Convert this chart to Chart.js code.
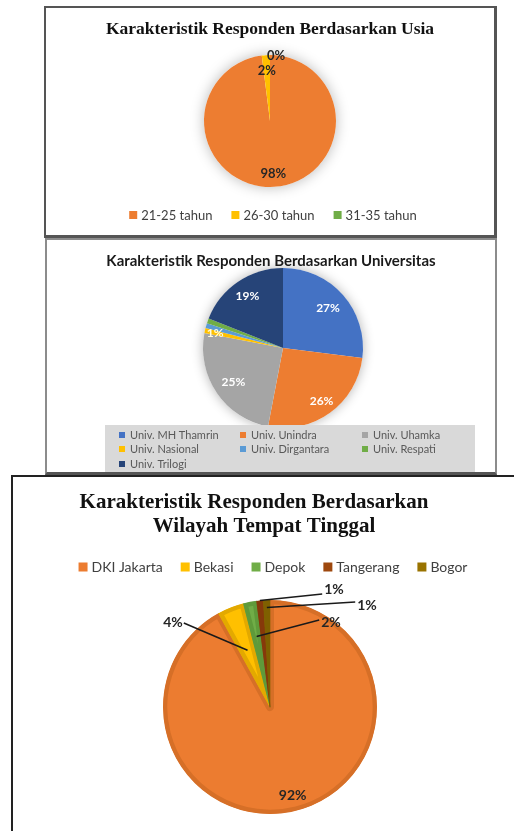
<!DOCTYPE html>
<html><head><meta charset="utf-8">
<script src="https://cdn.jsdelivr.net/npm/chart.js@4.4.1/dist/chart.umd.min.js"></script>
<style>
html,body{margin:0;padding:0;background:#fff;width:514px;height:831px;overflow:hidden;position:relative}
.box{position:absolute;box-sizing:border-box}
canvas{position:absolute;left:0;top:0}
</style></head><body>
<div class="box" style="left:44px;top:6px;width:453px;height:232px;border:2px solid #555;border-right-width:3px;border-bottom-width:3px"></div>
<div class="box" style="left:45px;top:238px;width:452px;height:237px;border:2px solid #8c8c8c;border-bottom:3px solid #555"></div>
<div class="box" style="left:11px;top:475px;width:520px;height:400px;border:2px solid #222"></div>
<canvas id="c1" width="514" height="831"></canvas>
<canvas id="c2" width="514" height="831"></canvas>
<canvas id="c3" width="514" height="831"></canvas>
<script>
// ---- data ----
const usiaCategories = ['21-25 tahun', '26-30 tahun', '31-35 tahun'];
const usiaValues = [98, 2, 0];
const usiaColors = ['#ED7D31', '#FFC000', '#70AD47'];

const univCategories = ['Univ. MH Thamrin', 'Univ. Unindra', 'Univ. Uhamka', 'Univ. Nasional', 'Univ. Dirgantara', 'Univ. Respati', 'Univ. Trilogi'];
const univValues = [27, 26, 25, 1, 1, 1, 19];
const univColors = ['#4472C4', '#ED7D31', '#A5A5A5', '#FFC000', '#5B9BD5', '#70AD47', '#264478'];

const wilayahCategories = ['DKI Jakarta', 'Bekasi', 'Depok', 'Tangerang', 'Bogor'];
const wilayahValues = [92, 4, 2, 1, 1];
const wilayahColors = ['#EC7C30', '#FFC000', '#70AD47', '#9E480E', '#997300'];
const wilayahRims = ['#D66F27', '#E3A900', '#5F9A3A', '#86390A', '#7F6000'];

// ---- layout helpers ----
const W = 514, H = 831;
function padFor(cx, cy, r, extra) {
  const s = r + (extra || 0) / 2;
  return { left: cx - s, right: W - (cx + s), top: cy - s, bottom: H - (cy + s) };
}

const deco = {
  id: 'deco',
  beforeDatasetsDraw(chart, args, o) {
    if (!o.shadow) return;
    const a = chart.getDatasetMeta(0).data[0];
    const ctx = chart.ctx; ctx.save();
    ctx.shadowColor = o.shadow.color; ctx.shadowBlur = o.shadow.blur;
    ctx.shadowOffsetX = o.shadow.dx || 0; ctx.shadowOffsetY = o.shadow.dy || 0;
    ctx.fillStyle = '#fff'; ctx.beginPath(); ctx.arc(a.x, a.y, a.outerRadius, 0, Math.PI * 2); ctx.fill();
    ctx.restore();
  },
  afterDatasetsDraw(chart, args, o) {
    const ctx = chart.ctx, meta = chart.getDatasetMeta(0), ds = chart.data.datasets[0].data;
    const total = ds.reduce((s, v) => s + v, 0);
    ctx.save(); ctx.textAlign = 'center'; ctx.textBaseline = 'middle';
    (o.labels || []).forEach((L, i) => {
      if (!L) return;
      const arc = meta.data[i], cx = arc.x, cy = arc.y, r = arc.outerRadius;
      const mid = (arc.startAngle + arc.endAngle) / 2;
      const txt = Math.round(ds[i] / total * 100) + '%';
      ctx.font = L.font || o.labelFont; ctx.fillStyle = L.color || o.labelColor;
      let x, y;
      if (L.frac != null) { x = cx + Math.cos(mid) * r * L.frac; y = cy + Math.sin(mid) * r * L.frac; }
      else { x = cx + L.dx; y = cy + L.dy; }
      if (L.line != null) {
        const px = cx + Math.cos(mid) * r * L.line, py = cy + Math.sin(mid) * r * L.line;
        const w = ctx.measureText(txt).width;
        const sx = L.dx < 0 ? x + w / 2 + 1 : x - w / 2 - 2;
        const sy = y + (L.ly || 0);
        ctx.strokeStyle = o.lineColor; ctx.lineWidth = o.lineWidth;
        ctx.beginPath(); ctx.moveTo(sx, sy); ctx.lineTo(px, py); ctx.stroke();
      }
      ctx.fillText(txt, x, y);
    });
    ctx.restore();
  },
  afterDraw(chart, args, o) {
    const ctx = chart.ctx; ctx.save();
    if (o.title) {
      const T = o.title;
      ctx.font = T.font; ctx.fillStyle = T.color; ctx.textAlign = 'center'; ctx.textBaseline = 'middle';
      T.lines.forEach((t, k) => ctx.fillText(t, Array.isArray(T.x) ? T.x[k] : T.x, T.y + k * (T.lh || 0)));
    }
    if (o.legend) {
      const Lg = o.legend;
      const labels = chart.data.labels, colors = chart.data.datasets[0].backgroundColor;
      if (Lg.bg) { ctx.fillStyle = Lg.bg.color; ctx.fillRect(Lg.bg.x, Lg.bg.y, Lg.bg.w, Lg.bg.h); }
      ctx.font = Lg.font; ctx.textBaseline = 'middle'; ctx.textAlign = 'left';
      let pos = [];
      if (Lg.grid) {
        labels.forEach((t, i) => pos.push([Lg.grid.xs[i % Lg.grid.xs.length], Lg.grid.ys[Math.floor(i / Lg.grid.xs.length)]]));
      } else {
        const widths = labels.map(t => Lg.box + Lg.gap + ctx.measureText(t).width);
        const total = widths.reduce((s, v) => s + v, 0) + Lg.itemGap * (labels.length - 1);
        let x = Lg.cx - total / 2;
        widths.forEach(w => { pos.push([x, Lg.y]); x += w + Lg.itemGap; });
      }
      labels.forEach((t, i) => {
        const p = pos[i];
        ctx.fillStyle = colors[i]; ctx.fillRect(p[0], p[1] - Lg.box / 2, Lg.box, Lg.box);
        ctx.fillStyle = Lg.color; ctx.fillText(t, p[0] + Lg.box + Lg.gap, p[1] + 0.5);
      });
    }
    ctx.restore();
  }
};
Chart.register(deco);

function makePie(id, labels, values, colors, extraDs, layout, decoOpts) {
  return new Chart(document.getElementById(id), {
    type: 'pie',
    data: { labels: labels, datasets: [Object.assign({ data: values, backgroundColor: colors, borderWidth: 0, hoverOffset: 0 }, extraDs)] },
    options: {
      responsive: false, animation: false, devicePixelRatio: 1,
      layout: { padding: layout },
      plugins: { legend: { display: false }, title: { display: false }, tooltip: { enabled: false }, deco: decoOpts }
    }
  });
}

// Chart 1: Usia
makePie('c1', usiaCategories, usiaValues, usiaColors, {}, padFor(270, 121, 66, 0), {
  shadow: { color: 'rgba(0,0,0,0.28)', blur: 14 },
  title: { lines: ['Karakteristik Responden Berdasarkan Usia'], x: 270, y: 29, font: 'bold 17.5px "Liberation Serif"', color: '#111' },
  labelFont: 'bold 13px Lato', labelColor: '#262626',
  labels: [{ frac: 0.8 }, { frac: 0.76 }, { dx: 6, dy: -65 }],
  legend: { font: '13px Lato', color: '#404040', box: 8, gap: 4, itemGap: 19, y: 215, cx: 273 }
});

// Chart 2: Universitas
makePie('c2', univCategories, univValues, univColors, {}, padFor(283, 348, 80, 0), {
  shadow: { color: 'rgba(0,0,0,0.3)', blur: 12 },
  title: { lines: ['Karakteristik Responden Berdasarkan Universitas'], x: 271, y: 261, font: 'bold 15px Lato', color: '#1a1a1a' },
  labelFont: 'bold 12px Lato', labelColor: '#ffffff',
  labels: [{ frac: 0.75 }, { frac: 0.82 }, { frac: 0.75 }, { frac: 0.87, color: '#fffbe0' }, null, null, { frac: 0.79 }],
  legend: { font: '11px Lato', color: '#595959', box: 6, gap: 5, grid: { xs: [119, 240, 362], ys: [435, 449, 464] },
            bg: { x: 105, y: 425, w: 370, h: 47, color: '#D9D9D9' } }
});

// Chart 3: Wilayah
makePie('c3', wilayahCategories, wilayahValues, wilayahColors,
  { borderColor: wilayahRims, borderWidth: 4, borderAlign: 'inner' }, padFor(270, 707, 107, 0), {
  title: { lines: ['Karakteristik Responden Berdasarkan', 'Wilayah Tempat Tinggal'], x: [254, 264], y: 503, lh: 24,
           font: 'bold 21px "Liberation Serif"', color: '#111' },
  labelFont: 'bold 14px Lato', labelColor: '#262626', lineColor: '#1a1a1a', lineWidth: 1.5,
  labels: [{ frac: 0.85 }, { dx: -97, dy: -85, line: 0.57, ly: 1 }, { dx: 61, dy: -85, line: 0.67, ly: -2 },
           { dx: 64, dy: -118, line: 1.0, ly: 5 }, { dx: 97, dy: -102, line: 0.93, ly: -3 }],
  legend: { font: '14px Lato', color: '#404040', box: 9, gap: 4, itemGap: 18, y: 567, cx: 273 }
});
</script>
</body></html>
